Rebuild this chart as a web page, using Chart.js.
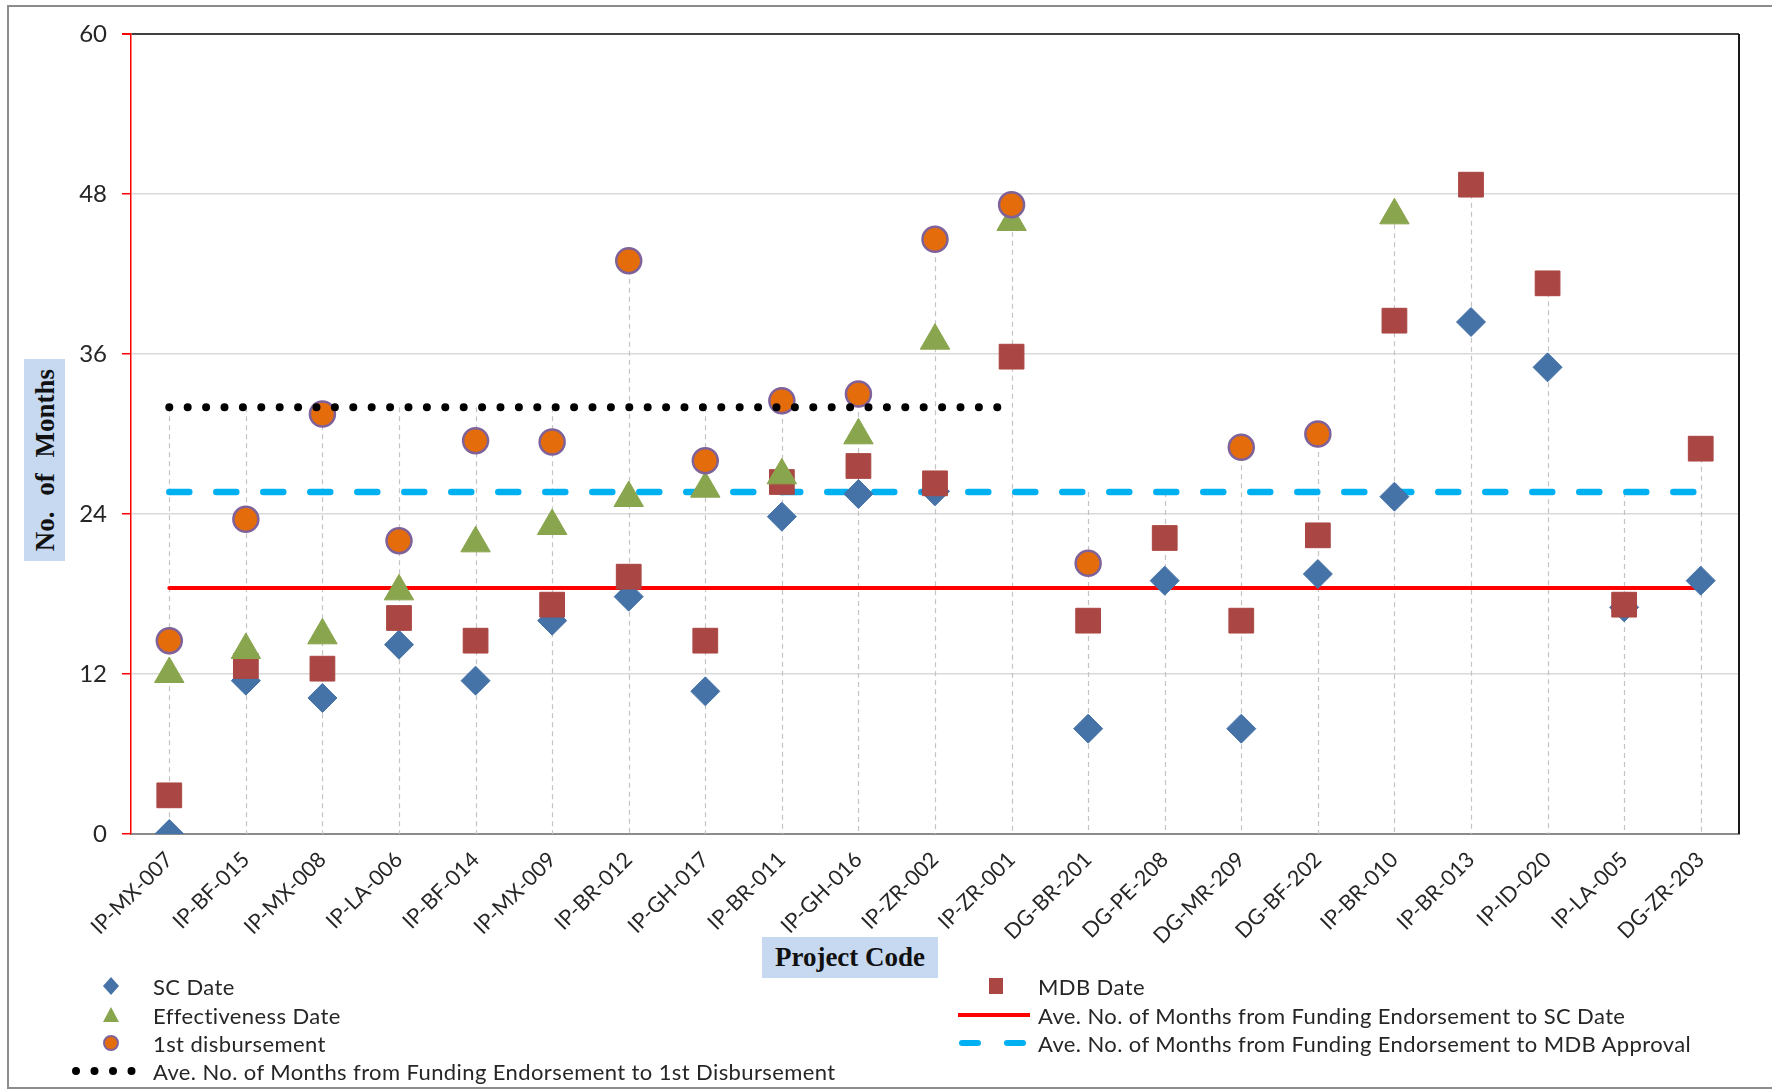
<!DOCTYPE html>
<html>
<head>
<meta charset="utf-8">
<script src="https://cdn.jsdelivr.net/npm/chart.js@4.4.1/dist/chart.umd.min.js"></script>
<style>
  html, body { margin: 0; padding: 0; background: #fff; }
  #wrap { position: relative; width: 1772px; height: 1090px; overflow: hidden; font-family: Lato, "Open Sans", sans-serif; color: #262626; }
  #frame { position: absolute; left: 7px; top: 5px; width: 1820px; height: 1084px; border: 2px solid #8c8c8c; box-sizing: border-box; }
  #chart { position: absolute; left: 0; top: 0; }
  .ytitle { position: absolute; left: 24px; top: 359px; width: 41px; height: 202px; background: #c6d9f1; }
  .ytitle span { position: absolute; left: 50%; top: 50%; transform: translate(-50%, -50%) rotate(-90deg); white-space: nowrap; font: bold 27px "Liberation Serif", "DejaVu Serif", serif; word-spacing: 9px; color: #111; }
  .xtitle { position: absolute; left: 762px; top: 937px; width: 176px; height: 41px; background: #c6d9f1; font: bold 27px "Liberation Serif", "DejaVu Serif", serif; text-align: center; line-height: 41px; color: #111; }
  .item { position: absolute; height: 26px; display: flex; align-items: center; font-size: 22px; letter-spacing: 0.4px; white-space: nowrap; color: #262626; }
  .item svg { position: absolute; }
</style>
</head>
<body>
<div id="wrap">
  <div id="frame"></div>
  <canvas id="chart" width="1772" height="1090"></canvas>
  <div class="ytitle"><span>No. of Months</span></div>
  <div class="xtitle">Project Code</div>
  <div id="legend"></div>
</div>
<script>
const projectCodes = [
  "IP-MX-007", "IP-BF-015", "IP-MX-008", "IP-LA-006", "IP-BF-014", "IP-MX-009", "IP-BR-012",
  "IP-GH-017", "IP-BR-011", "IP-GH-016", "IP-ZR-002", "IP-ZR-001", "DG-BR-201", "DG-PE-208",
  "DG-MR-209", "DG-BF-202", "IP-BR-010", "IP-BR-013", "IP-ID-020", "IP-LA-005", "DG-ZR-203"
]

// months from funding endorsement
const scDate = [0, 11.5, 10.2, 14.2, 11.5, 16.0, 17.8, 10.7, 23.8, 25.5, 25.7, null, 7.9, 19.0, 7.9, 19.5, 25.3, 38.4, 35.0, 17.0, 19.0]
const mdbDate = [2.9, 12.6, 12.4, 16.2, 14.5, 17.2, 19.3, 14.5, 26.4, 27.6, 26.3, 35.8, 16.0, 22.2, 16.0, 22.4, 38.5, 48.7, 41.3, 17.2, 28.9]
const effectivenessDate = [12.0, 13.8, 14.9, 18.2, 21.8, 23.1, 25.2, 25.9, 26.9, 29.9, 37.0, 45.9, null, null, null, null, 46.4, null, null, null, null]
const firstDisbursement = [14.5, 23.6, 31.5, 22.0, 29.5, 29.4, 43.0, 28.0, 32.5, 33.0, 44.6, 47.2, 20.3, null, 29.0, 30.0, null, null, null, null, null]

const avgToSC = 18.45
const avgToMDB = 25.65
const avgToFirst = 32.0
const avgToFirstLastCode = "IP-ZR-001"

const yTicks = [0, 12, 24, 36, 48, 60]

const colors = {
  sc: "#4572a7", mdb: "#aa4643", eff: "#89a54e",
  first: "#e46c0a", firstBorder: "#7f6299",
  red: "#ff0000", cyan: "#00b0f0", dots: "#000000"
}

const markers = (data, label, style, radius, color, order, extra = {}) => ({
  label, data, order,
  showLine: false,
  pointStyle: style,
  pointRadius: radius,
  pointBackgroundColor: color,
  pointBorderColor: color,
  pointBorderWidth: 1,
  ...extra
})

const avgLine = (label, value, lastCode, color, width, dash, order) => ({
  label, order,
  data: [ { x: projectCodes[0], y: value }, { x: lastCode, y: value } ],
  borderColor: color,
  borderWidth: width,
  borderDash: dash,
  borderCapStyle: "round",
  pointRadius: 0,
  fill: false
})

// dashed drop lines from the highest mark in each category down to the axis
const dropLines = {
  id: "dropLines",
  beforeDatasetsDraw(chart) {
    const { ctx, scales: { x, y } } = chart
    const lastFirst = projectCodes.indexOf(avgToFirstLastCode)
    ctx.save()
    ctx.strokeStyle = "#c4c4c4"
    ctx.lineWidth = 1.2
    ctx.setLineDash([5, 4])
    projectCodes.forEach((code, i) => {
      const vals = [scDate[i], mdbDate[i], effectivenessDate[i], firstDisbursement[i], avgToSC, avgToMDB]
      if (i <= lastFirst) vals.push(avgToFirst)
      const top = Math.max(...vals.filter(v => v != null))
      const px = Math.round(x.getPixelForValue(i)) + 0.5
      ctx.beginPath()
      ctx.moveTo(px, y.getPixelForValue(top))
      ctx.lineTo(px, y.getPixelForValue(0))
      ctx.stroke()
    })
    ctx.restore()
  },
  afterDraw(chart) {
    const { ctx, chartArea } = chart
    ctx.save()
    ctx.strokeStyle = "#1a1a1a"
    ctx.lineWidth = 2
    ctx.beginPath()
    ctx.moveTo(chartArea.right, chartArea.top)
    ctx.lineTo(chartArea.right, chartArea.bottom)
    ctx.stroke()
    ctx.restore()
  }
}

new Chart(document.getElementById("chart"), {
  type: "line",
  data: {
    labels: projectCodes,
    datasets: [
      avgLine("Ave. No. of Months from Funding Endorsement to 1st Disbursement", avgToFirst, avgToFirstLastCode, colors.dots, 8, [0, 18.4], 0),
      markers(firstDisbursement, "1st disbursement", "circle", 12.5, colors.first, 1, { pointBorderColor: colors.firstBorder, pointBorderWidth: 2.5 }),
      markers(effectivenessDate, "Effectiveness Date", "triangle", 17, colors.eff, 2),
      markers(mdbDate, "MDB Date", "rect", 17.5, colors.mdb, 3),
      markers(scDate, "SC Date", "rectRot", 14.5, colors.sc, 4),
      avgLine("Ave. No. of Months from Funding Endorsement to SC Date", avgToSC, projectCodes[projectCodes.length - 1], colors.red, 4, [], 5),
      avgLine("Ave. No. of Months from Funding Endorsement to MDB Approval", avgToMDB, projectCodes[projectCodes.length - 1], colors.cyan, 6.5, [20, 27], 6)
    ]
  },
  options: {
    responsive: false,
    animation: false,
    events: [],
    layout: { padding: { left: 0, top: 34, right: 33, bottom: 126 } },
    plugins: { legend: { display: false }, tooltip: { enabled: false } },
    scales: {
      x: {
        type: "category",
        offset: true,
        grid: { display: false, drawTicks: false },
        border: { color: "#8c8c8c", width: 2 },
        ticks: {
          autoSkip: false, minRotation: 45, maxRotation: 45, padding: 13,
          color: "#262626", font: { family: "Lato", size: 21.5 }
        },
        afterFit: (scale) => { scale.height = 130 }
      },
      y: {
        min: 0, max: 60,
        afterBuildTicks: (scale) => { scale.ticks = yTicks.map(value => ({ value })) },
        grid: {
          color: (c) => c.tick && c.tick.value === 60 ? "#404040" : "#d9d9d9",
          lineWidth: (c) => c.tick && c.tick.value === 60 ? 2 : 1.5,
          tickColor: colors.red,
          tickLength: 9
        },
        border: { color: colors.red, width: 1.5 },
        ticks: { padding: 15, color: "#262626", font: { family: "Lato", size: 24 } },
        afterFit: (scale) => { scale.width = 131 }
      }
    }
  },
  plugins: [dropLines]
})

// legend, two columns under the plot
const legendItems = [
  { x: 111, y: 986, text: "SC Date", svg: `<svg width="20" height="20" viewBox="0 0 20 20"><polygon points="10,1 18,10 10,19 2,10" fill="${colors.sc}"/></svg>` },
  { x: 111, y: 1015, text: "Effectiveness Date", svg: `<svg width="20" height="20" viewBox="0 0 20 20"><polygon points="10,2 18,17 2,17" fill="${colors.eff}"/></svg>` },
  { x: 111, y: 1043, text: "1st disbursement", svg: `<svg width="20" height="20" viewBox="0 0 20 20"><circle cx="10" cy="10" r="7" fill="${colors.first}" stroke="${colors.firstBorder}" stroke-width="2"/></svg>` },
  { x: 104, y: 1071, w: 66, text: "Ave. No. of Months from Funding Endorsement to 1st Disbursement", svg: `<svg width="66" height="12" viewBox="0 0 66 12"><line x1="5" y1="6" x2="62" y2="6" stroke="#000" stroke-width="8" stroke-linecap="round" stroke-dasharray="0 18.5"/></svg>` },
  { x: 996, y: 986, text: "MDB Date", svg: `<svg width="20" height="20" viewBox="0 0 20 20"><rect x="3" y="2" width="14" height="16" fill="${colors.mdb}"/></svg>` },
  { x: 994, y: 1015, w: 72, text: "Ave. No. of Months from Funding Endorsement to SC Date", svg: `<svg width="72" height="10" viewBox="0 0 72 10"><line x1="0" y1="5" x2="72" y2="5" stroke="${colors.red}" stroke-width="4"/></svg>` },
  { x: 994, y: 1043, w: 72, text: "Ave. No. of Months from Funding Endorsement to MDB Approval", svg: `<svg width="72" height="10" viewBox="0 0 72 10"><line x1="4" y1="5" x2="70" y2="5" stroke="${colors.cyan}" stroke-width="6" stroke-linecap="round" stroke-dasharray="16 29"/></svg>` }
]

const legend = document.getElementById("legend")
legendItems.forEach(({ x, y, w = 20, text, svg }) => {
  const textX = x < 500 ? 153 : 1038
  const item = document.createElement("div")
  item.className = "item"
  item.style.left = (x - w / 2) + "px"
  item.style.top = (y - 13) + "px"
  item.innerHTML = svg + `<span style="position:absolute;left:${textX - x + w / 2}px">${text}</span>`
  legend.appendChild(item)
})
</script>
</body>
</html>
